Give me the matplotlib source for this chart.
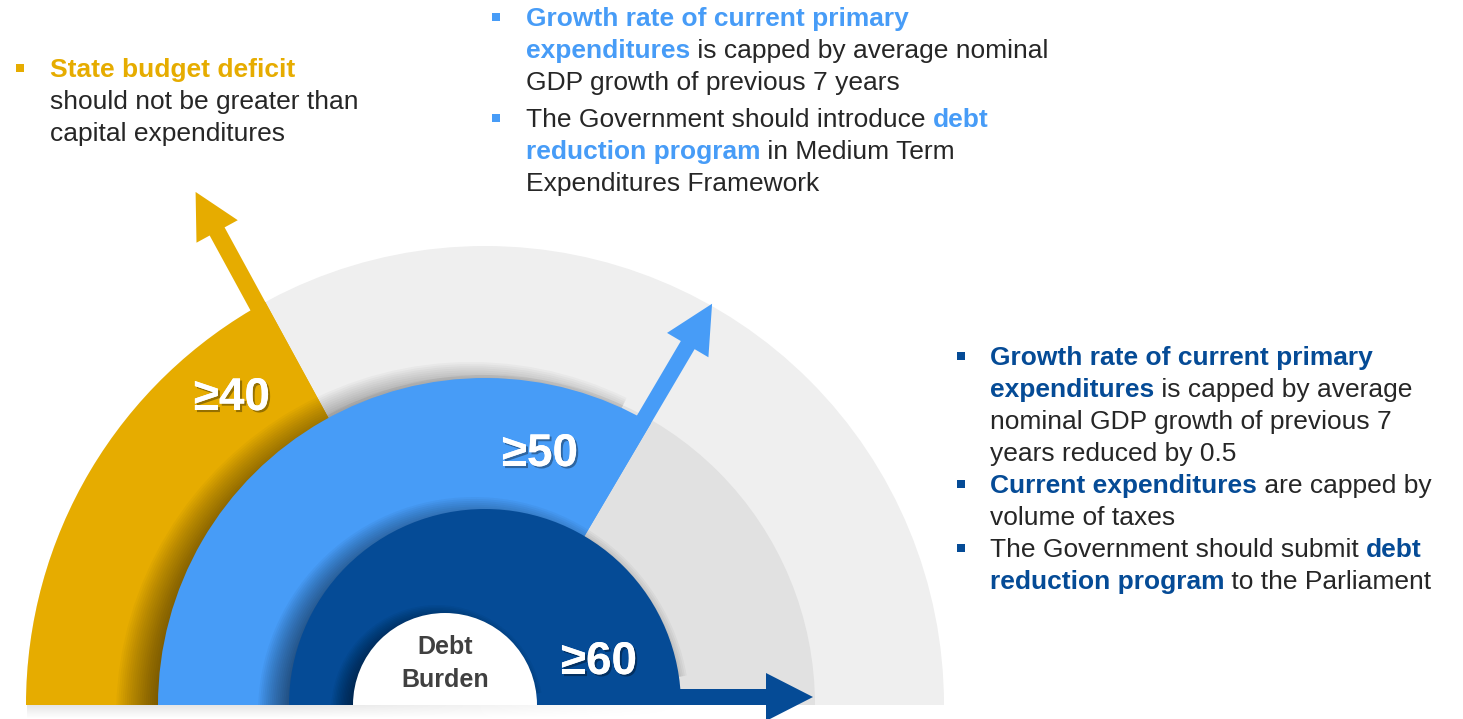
import matplotlib
matplotlib.use("Agg")
import matplotlib.pyplot as plt
from matplotlib.patches import Wedge, Polygon, Rectangle
import matplotlib.patheffects as pe
import numpy as np

# ---------------- data ----------------
thresholds = ["≥40", "≥50", "≥60"]
center_label = ["Debt", "Burden"]

left_lines = [
    [("State budget deficit", True)],
    [("should not be greater than", False)],
    [("capital expenditures", False)],
]
left_bullets = [0]

mid_lines = [
    [("Growth rate of current primary", True)],
    [("expenditures", True), (" is capped by average nominal", False)],
    [("GDP growth of previous 7 years", False)],
    [("The Government should introduce ", False), ("debt", True)],
    [("reduction program", True), (" in Medium Term", False)],
    [("Expenditures Framework", False)],
]
mid_bullets = [0, 3]

right_lines = [
    [("Growth rate of current primary", True)],
    [("expenditures", True), (" is capped by average", False)],
    [("nominal GDP growth of previous 7", False)],
    [("years reduced by 0.5", False)],
    [("Current expenditures", True), (" are capped by", False)],
    [("volume of taxes", False)],
    [("The Government should submit ", False), ("debt", True)],
    [("reduction program", True), (" to the Parliament", False)],
]
right_bullets = [0, 4, 6]

# ---------------- style ----------------
YELLOW = "#E6AC00"
LBLUE = "#479CF7"
DBLUE = "#054B96"
GRAY_OUT = "#EFEFEF"
GRAY_IN = "#E1E1E1"
TXT = "#262626"
FAM = ["Liberation Sans", "DejaVu Sans"]

W, H = 1463, 719
fig = plt.figure(figsize=(W / 100, H / 100), dpi=100)
ax = fig.add_axes([0, 0, 1, 1])
ax.set_xlim(0, W)
ax.set_ylim(0, H)
ax.axis("off")
renderer = fig.canvas.get_renderer()

BASE = 14
C = np.array([485.0, BASE])
R_OUT, R_MID, R_IN, R_CORE = 459, 328, 196, 92
CORE_C = (445.0, BASE)

clip = Rectangle((0, BASE), W, H, transform=ax.transData)


def soft_shadow(cx, cy, r, t1, t2, dx, dy, inner, outer, z, n=20, alpha=0.028):
    for k in range(n):
        rr = r - inner + (inner + outer) * (k + 1) / n
        w = Wedge((cx + dx, cy + dy), rr, t1, t2, fc="black", ec="none",
                  alpha=alpha, zorder=z)
        ax.add_patch(w)
        w.set_clip_path(clip)


def radial_arrow(theta, r0, r1, r2, w, hw, color, z):
    t = np.radians(theta)
    u = np.array([np.cos(t), np.sin(t)])
    n = np.array([-np.sin(t), np.cos(t)])
    pts = [C + r0 * u, C + r1 * u, C + r1 * u + (w / 2 - hw) * n,
           C + r2 * u + (w / 2) * n, C + r1 * u + (w / 2 + hw) * n,
           C + r1 * u + w * n, C + r0 * u + w * n]
    ax.add_patch(Polygon(pts, closed=True, fc=color, ec="none", zorder=z))


# background rings
ax.add_patch(Wedge(C, R_OUT, 0, 180, fc=GRAY_OUT, ec="none", zorder=1))
ax.add_patch(Wedge(C, R_MID + 2, 0, 180, fc=GRAY_IN, ec="none", zorder=2))

# bottom shadow strip
grad = np.zeros((20, 40, 4))
vert = np.linspace(0.0, 0.10, 20)[:, None]
horiz = np.clip(np.linspace(1.6, 0.0, 40), 0, 1)[None, :]
grad[..., 3] = vert * horiz
ax.imshow(grad, extent=(27, 700, 0, BASE), origin="lower", aspect="auto",
          zorder=1, interpolation="bilinear")

# yellow
ANG_Y = 118.6
ax.add_patch(Wedge(C, R_OUT, ANG_Y, 180, fc=YELLOW, ec="none", zorder=3))
radial_arrow(ANG_Y, 200, 544, 589, 17, 23.5, YELLOW, 3)

# light blue
soft_shadow(C[0], C[1], R_MID - 1, 64, 182, -14, -12, 14, 28, 4)
ANG_B = 59.5
ax.add_patch(Wedge(C, R_MID - 1, ANG_B, 180, fc=LBLUE, ec="none", zorder=5))
radial_arrow(ANG_B, 100, 413, 461, 16, 24, LBLUE, 5)

# dark blue
soft_shadow(C[0], C[1], R_IN, 10, 182, -11, -8, 11, 20, 6, n=16, alpha=0.035)
ax.add_patch(Wedge(C, R_IN, 0, 180, fc=DBLUE, ec="none", zorder=7))
radial_arrow(0, 100, 281, 328, 16, 24, DBLUE, 7)

# core
soft_shadow(CORE_C[0], CORE_C[1], R_CORE, 10, 182, -8, -6, 8, 14, 8, n=14,
            alpha=0.04)
ax.add_patch(Wedge(CORE_C, R_CORE, 0, 180, fc="white", ec="none", zorder=9))

# threshold labels
lab_pos = [(232, 321), (540, 265), (599, 57)]
for s, (x, y) in zip(thresholds, lab_pos):
    ax.text(x, y, s, color="white", fontsize=33, fontweight="bold", family=FAM,
            ha="center", va="center", zorder=12,
            path_effects=[pe.withSimplePatchShadow(offset=(1.5, -1.5),
                                                   shadow_rgbFace="black",
                                                   alpha=0.35),
                          pe.Normal()])

for i, s in enumerate(center_label):
    ax.text(CORE_C[0], H - 654 - 33 * i, s, color="#404040", fontsize=18,
            fontweight="bold", family=FAM, ha="center", va="baseline", zorder=12)

# ---------------- rich text ----------------
FS = 19


def twidth(s, bold):
    kw = dict(fontsize=FS, family=FAM, fontweight="bold" if bold else "normal")
    t1 = ax.text(0, 0, "|" + s + "|", **kw)
    w1 = t1.get_window_extent(renderer).width
    t1.remove()
    t2 = ax.text(0, 0, "||", **kw)
    w2 = t2.get_window_extent(renderer).width
    t2.remove()
    return w1 - w2


def block(lines, bullets, x_text, x_bullet, baselines, color):
    for i, (segs, by) in enumerate(zip(lines, baselines)):
        y = H - by
        x = x_text
        for s, hl in segs:
            ax.text(x, y, s, fontsize=FS, family=FAM,
                    fontweight="bold" if hl else "normal",
                    color=color if hl else TXT, ha="left", va="baseline",
                    zorder=12)
            x += twidth(s, hl)
        if i in bullets:
            ax.add_patch(Rectangle((x_bullet - 4, y + 9.5 - 4), 8, 8,
                                   fc=color, ec="none", zorder=12))


block(left_lines, left_bullets, 50, 20, [77, 109, 141], YELLOW)
block(mid_lines, mid_bullets, 526, 496, [26, 58, 90, 127, 159, 191], LBLUE)
block(right_lines, right_bullets, 990, 961,
      [365, 397, 429, 461, 493, 525, 557, 589], DBLUE)

fig.savefig("out.png", dpi=100, facecolor="white")
